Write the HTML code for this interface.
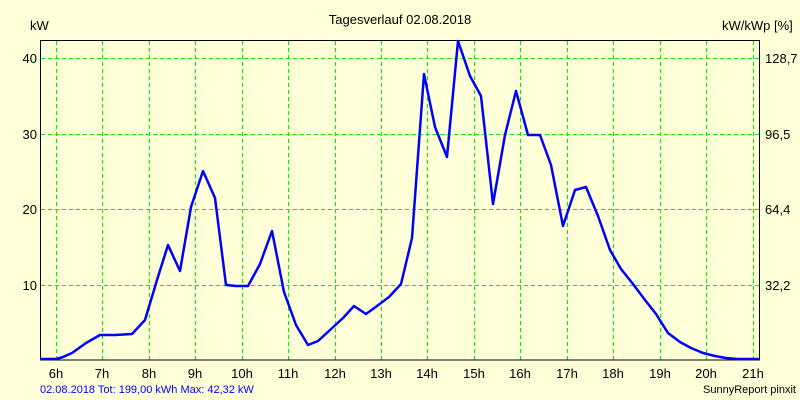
<!DOCTYPE html>
<html><head><meta charset="utf-8"><style>body{margin:0;background:#ffffd8}svg{display:block}text{font-family:"Liberation Sans",sans-serif;font-size:13px}</style></head><body>
<svg width="800" height="400" xmlns="http://www.w3.org/2000/svg">
<rect width="800" height="400" fill="#ffffd8"/>
<g stroke="#00ee00" stroke-width="1" stroke-dasharray="4,3">
<line x1="56.5" y1="41" x2="56.5" y2="360"/><line x1="102.5" y1="41" x2="102.5" y2="360"/><line x1="149.5" y1="41" x2="149.5" y2="360"/><line x1="195.5" y1="41" x2="195.5" y2="360"/><line x1="242.5" y1="41" x2="242.5" y2="360"/><line x1="288.5" y1="41" x2="288.5" y2="360"/><line x1="335.5" y1="41" x2="335.5" y2="360"/><line x1="381.5" y1="41" x2="381.5" y2="360"/><line x1="427.5" y1="41" x2="427.5" y2="360"/><line x1="474.5" y1="41" x2="474.5" y2="360"/><line x1="520.5" y1="41" x2="520.5" y2="360"/><line x1="567.5" y1="41" x2="567.5" y2="360"/><line x1="613.5" y1="41" x2="613.5" y2="360"/><line x1="660.5" y1="41" x2="660.5" y2="360"/><line x1="706.5" y1="41" x2="706.5" y2="360"/><line x1="753.5" y1="41" x2="753.5" y2="360"/>
<line x1="41" y1="58.5" x2="760" y2="58.5"/><line x1="41" y1="134.5" x2="760" y2="134.5"/><line x1="41" y1="209.5" x2="760" y2="209.5"/><line x1="41" y1="285.5" x2="760" y2="285.5"/>
</g>
<rect x="40.5" y="40.5" width="719" height="319.5" fill="none" stroke="#000" stroke-width="1"/>
<polyline fill="none" stroke="#0000ff" stroke-width="2.5" stroke-linejoin="round" points="40,359 56,359 63,357 72,353 86,343 100,335 115,335 132,334 145,320 157,280 168,245 180,271 191,207 203,171 215,198 226,285 236,286 248,286 260,264 272,231 284,292 296,325 308,345 318,341 330,330 343,318 354,306 366,314 377,306 389,297 401,284 412,238 424,74 435,127 447,157 458,41 470,76 481,96 493,204 505,135 516,91 528,135 540,135 551,165 563,226 575,190 586,187 598,216 610,250 621,269 633,284 645,300 656,314 668,333 680,342 691,348 703,353 715,356 726,358 738,359 759,359"/>
<g text-anchor="end"><text x="37" y="63">40</text><text x="37" y="139">30</text><text x="37" y="214">20</text><text x="37" y="290">10</text></g>
<g><text x="765" y="63">128,7</text><text x="765" y="139">96,5</text><text x="765" y="214">64,4</text><text x="765" y="290">32,2</text></g>
<text x="30" y="30">kW</text><text x="722" y="30">kW/kWp [%]</text>
<text x="400" y="24" text-anchor="middle">Tagesverlauf 02.08.2018</text>
<g text-anchor="middle"><text x="56" y="378">6h</text><text x="102" y="378">7h</text><text x="149" y="378">8h</text><text x="195" y="378">9h</text><text x="242" y="378">10h</text><text x="288" y="378">11h</text><text x="335" y="378">12h</text><text x="381" y="378">13h</text><text x="427" y="378">14h</text><text x="474" y="378">15h</text><text x="520" y="378">16h</text><text x="567" y="378">17h</text><text x="613" y="378">18h</text><text x="660" y="378">19h</text><text x="706" y="378">20h</text><text x="753" y="378">21h</text></g>
<text x="40" y="393" fill="#0000ff" style="font-size:11px">02.08.2018 Tot: 199,00 kWh Max: 42,32 kW</text>
<text x="796" y="393" text-anchor="end" style="font-size:11px">SunnyReport pinxit</text>
</svg></body></html>
